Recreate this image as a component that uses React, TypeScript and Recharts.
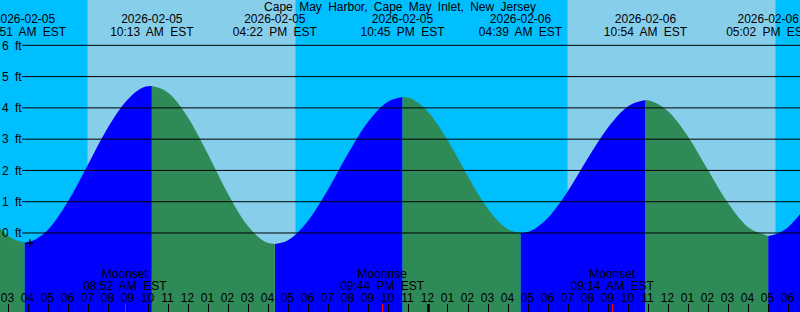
import { ComposedChart, Area, XAxis, YAxis, ReferenceArea, ReferenceLine, ReferenceDot } from 'recharts';

// hours since midnight 2026-02-05 (EST) and tide height in feet
const times = [
  2.625, 3, 3.85, 4, 5, 6, 7, 8, 9, 10, 10.217, 11, 12, 13, 14, 15, 16, 16.367, 17, 18, 19, 20, 21, 22, 22.75,
  23, 24, 25, 26, 27, 28, 28.65, 29, 30, 31, 32, 33, 34, 34.9, 35, 36, 37, 38, 39, 40, 41, 41.033, 42, 42.625,
];
const levels = [
  0.15, -0.08, -0.3, -0.29, 0.09, 0.98, 2.16, 3.35, 4.26, 4.69, 4.7, 4.5, 3.72, 2.55, 1.28, 0.24, -0.31, -0.35, -0.24,
  0.37, 1.36, 2.51, 3.53, 4.19, 4.35, 4.33, 3.89, 2.97, 1.83, 0.79, 0.13, 0.0, 0.03, 0.47, 1.32, 2.37, 3.35, 4.04,
  4.25, 4.24, 3.91, 3.11, 2.04, 0.98, 0.2, -0.09, -0.1, 0.17, 0.6,
];

const tideTimes = [3.85, 10.217, 16.367, 22.75, 28.65, 34.9, 41.033];
const tideDates = ['2026-02-05', '2026-02-05', '2026-02-05', '2026-02-05', '2026-02-06', '2026-02-06', '2026-02-06'];
const tideClock = ['03:51 AM EST', '10:13 AM EST', '04:22 PM EST', '10:45 PM EST', '04:39 AM EST', '10:54 AM EST', '05:02 PM EST'];

const moonTimes = [8.867, 21.733, 33.233];
const moonKinds = ['Moonset', 'Moonrise', 'Moonset'];
const moonClock = ['08:52 AM EST', '09:44 PM EST', '09:14 AM EST'];

const dayStart = [7.0, 31.0];
const dayEnd = [17.4, 41.4];

const feet = [0, 1, 2, 3, 4, 5, 6];
const hourTicks = Array.from({ length: 40 }, (_, i) => i + 3);
const nowMark = { t: 4.12, h: -0.33 };

const TITLE = 'Cape May Harbor, Cape May Inlet, New Jersey';
const X_DOMAIN = [2.625, 42.625];
const Y_DOMAIN = [-2.526, 7.449];
const GRID_START = 3.73;

const NIGHT = '#00bfff';
const DAY = '#87ceeb';
const FLOOD = '#0000ff';
const EBB = '#2e8b57';
const FONT = '"Liberation Sans", Arial, sans-serif';

const rows = times.map((t, i) => {
  const h = levels[i];
  const upBefore = i > 0 && h > levels[i - 1];
  const upAfter = i < times.length - 1 && levels[i + 1] > h;
  const downBefore = i > 0 && h < levels[i - 1];
  const downAfter = i < times.length - 1 && levels[i + 1] < h;
  return { t, rise: upBefore || upAfter ? h : null, fall: downBefore || downAfter ? h : null };
});

const textStyle = { fontFamily: FONT, fontSize: 12, wordSpacing: 3 };

// one time axis draws hour ticks, moon events and the high/low labels on top
function TimeTick({ x, payload }: any) {
  const v = payload.value;
  const px = Math.round(x) + 0.5;
  const k = tideTimes.indexOf(v);
  if (k >= 0) {
    return (
      <g style={textStyle}>
        <text x={x} y={23} textAnchor="middle" fill="#000">{tideDates[k]}</text>
        <text x={x} y={36} textAnchor="middle" fill="#000">{tideClock[k]}</text>
      </g>
    );
  }
  const m = moonTimes.indexOf(v);
  if (m >= 0) {
    return (
      <g style={textStyle}>
        <line x1={px} x2={px} y1={304} y2={312} stroke="#ff0000" />
        <text x={x} y={278} textAnchor="middle" fill="#000">{moonKinds[m]}</text>
        <text x={x} y={289.5} textAnchor="middle" fill="#000">{moonClock[m]}</text>
      </g>
    );
  }
  const hr = v % 12 === 0 ? 12 : v % 12;
  return (
    <g style={textStyle}>
      <line x1={px} x2={px} y1={304} y2={312} stroke="#000" strokeWidth={v % 24 === 0 ? 2.5 : 1} />
      <text x={x} y={301.5} textAnchor="middle" fill="#000">{String(hr).padStart(2, '0')}</text>
    </g>
  );
}

function FeetTick({ y, payload }: any) {
  return (
    <text x={2} y={y + 4.3} textAnchor="start" fill="#000" style={textStyle}>
      {payload.value} ft
    </text>
  );
}

export default function App() {
  return (
    <div style={{ position: 'fixed', left: 0, top: 0, width: 800, height: 312, background: NIGHT, overflow: 'hidden' }}>
      <ComposedChart width={800} height={312} data={rows} margin={{ top: 0, right: 0, bottom: 0, left: 0 }}>
        <XAxis
          dataKey="t"
          type="number"
          domain={X_DOMAIN}
          allowDataOverflow
          mirror
          ticks={[...hourTicks, ...moonTimes, ...tideTimes]}
          interval={0}
          tick={TimeTick}
          tickLine={false}
          axisLine={false}
        />
        <YAxis
          type="number"
          domain={Y_DOMAIN}
          allowDataOverflow
          mirror
          ticks={feet}
          interval={0}
          tick={FeetTick}
          tickLine={false}
          axisLine={false}
        />
        {dayStart.map((s, i) => (
          <ReferenceArea key={s} x1={s} x2={dayEnd[i]} fill={DAY} fillOpacity={1} stroke="none" ifOverflow="hidden" />
        ))}
        <Area
          dataKey="rise"
          type="monotone"
          fill={FLOOD}
          fillOpacity={1}
          stroke="none"
          baseValue={Y_DOMAIN[0]}
          dot={false}
          activeDot={false}
          isAnimationActive={false}
        />
        <Area
          dataKey="fall"
          type="monotone"
          fill={EBB}
          fillOpacity={1}
          stroke="none"
          baseValue={Y_DOMAIN[0]}
          dot={false}
          activeDot={false}
          isAnimationActive={false}
        />
        {feet.map((f) => (
          <ReferenceLine
            key={f}
            segment={[{ x: GRID_START, y: f }, { x: X_DOMAIN[1], y: f }]}
            stroke="#000"
            strokeWidth={1}
            ifOverflow="visible"
          />
        ))}
        <ReferenceDot
          x={nowMark.t}
          y={nowMark.h}
          ifOverflow="visible"
          shape={(p: any) => (
            <path d={`M${p.cx - 4},${p.cy}h8M${p.cx},${p.cy - 4}v8`} stroke="#000" strokeWidth={1.2} fill="none" />
          )}
        />
      </ComposedChart>
      <div
        style={{
          position: 'absolute',
          left: 0,
          top: 0,
          width: 800,
          textAlign: 'center',
          fontFamily: FONT,
          fontSize: 12,
          wordSpacing: 3,
          lineHeight: '14px',
          color: '#000',
          pointerEvents: 'none',
        }}
      >
        {TITLE}
      </div>
    </div>
  );
}
